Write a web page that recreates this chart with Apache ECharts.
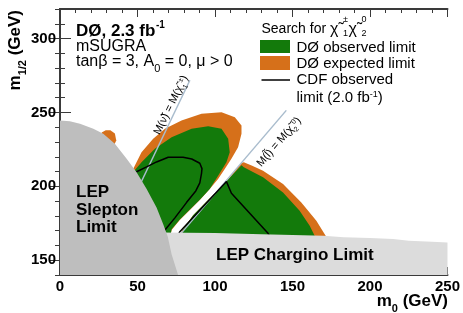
<!DOCTYPE html>
<html><head><meta charset="utf-8">
<script src="https://cdn.jsdelivr.net/npm/echarts@6/dist/echarts.min.js"></script>
<style>html,body{margin:0;padding:0;background:#fff}#c{width:463px;height:313px}</style>
</head><body><div id="c"></div>
<script>
// ---- data (m0, m1/2 in GeV) ----
const xMajorTicks = [0, 50, 100, 150, 200, 250];
const yMajorTicks = [150, 200, 250, 300];
const sleptonLimit = [[0,140],[0,244.6],[6.4,244.1],[12.9,242.3],[21.5,239],[27.9,235.6],[35.4,228.8],[43,218.6],[49.4,209.5],[55.9,198.2],[62.3,185.7],[66.6,174.4],[69.5,166],[72,154],[76.2,140]];
const charginoLimit = [[45,140],[45,169],[100,168.5],[130,167.5],[170,166.5],[183,165.5],[200,165],[215,164.3],[225,163.2],[240,162.5],[250,162],[250,140]];
const expectedLeft = [[40,160],[40,205],[47.2,211.8],[52.6,223],[60.1,232.2],[67.7,239],[78.4,244.6],[91.3,249.1],[104.2,250.2],[112.8,246.8],[117.1,241.2],[117.1,235.6],[114.9,226.5],[110.6,218.6],[106.3,211.8],[102,205],[96.6,198.2],[90.2,190.8],[83.8,184],[77.3,177.3],[72,170.5],[70,160]];
const observedLeft = [[40,160],[40,205],[47.5,210],[52.6,216.3],[61.2,225.4],[72,233.2],[84.9,239],[95.6,240.7],[104.2,239],[108.5,232.2],[109.5,223],[107.4,216.3],[102,207.2],[96.6,198.2],[90.2,191],[83.8,184.3],[77.3,177.5],[72,171],[70,160]];
const expectedRight = [[78.5,160],[78.5,169.7],[85.9,180.5],[107.4,203.5],[117.1,215.8],[118.6,216.3],[124,214],[131,210.6],[143.9,201.6],[155.7,189.1],[165.4,176.7],[171.8,165.8],[173.5,160]];
const observedRight = [[79,160],[79,169.7],[85.9,180.5],[107.4,203.5],[117.1,214.3],[118.6,212.9],[131,206.1],[143.9,195.9],[154.6,183.5],[161.1,173.3],[164.3,166.5],[165,160]];
const expectedBlob = [[26,231],[26.9,236.5],[29.5,238],[32.5,238],[35.4,235.8],[36.3,231],[34,226],[28,226]];
const lineSneutrino = [[48,193.3],[83.8,271.8]];
const lineSlepton = [[78,168],[146,251.4]];
const cdfLeft = [[47,208.5],[49.4,209.9],[55.9,213.2],[62.3,216.5],[69.8,219.7],[79.4,219.7],[85,218.5],[90.2,215.6],[91.6,212],[91.3,208.8],[90.2,202.3],[87.6,196.9],[81.6,189],[74,178.5],[67.7,170.5],[65,166.5]];
const cdfRight = [[76,166.5],[77.3,169.3],[107.4,203.2],[110.6,195.3],[134.2,168.2],[135.5,166]];

const GREEN = '#137a0b', ORANGE = '#d6701a', SLEP = '#bebebe', CHAR = '#dcdcdc', BLUE = '#a9bccd';
const FONT = 'Liberation Sans, Arial, Helvetica, sans-serif';

function poly(pts, color, z) {
  return {
    type: 'custom', coordinateSystem: 'cartesian2d', xAxisIndex: 0, yAxisIndex: 0, z: z,
    data: pts, encode: { x: 0, y: 1 }, silent: true, animation: false, clip: true,
    renderItem: function (params, api) {
      if (params.dataIndex !== 0) return null;
      return { type: 'polygon', shape: { points: pts.map(p => api.coord(p)) }, style: { fill: color } };
    }
  };
}
function line(pts, color, w) {
  return { type: 'line', xAxisIndex: 0, yAxisIndex: 0, z: 3, data: pts, showSymbol: false, symbol: 'none', silent: true, animation: false,
    lineStyle: { color: color, width: w } };
}
const AX = '#3a3a3a';
function xAx(pos, step, len, labels, line) {
  return { type: 'value', position: pos, min: 0, max: 250, interval: step,
    axisLine: { show: line, lineStyle: { color: AX, width: 2 } },
    axisTick: { show: true, inside: true, length: len, lineStyle: { color: AX, width: 1 } },
    axisLabel: { show: labels, margin: 4, color: '#000', fontSize: 15, fontWeight: 'bold', fontFamily: FONT,
      formatter: v => (xMajorTicks.includes(Math.round(v)) ? String(Math.round(v)) : '') },
    splitLine: { show: false } };
}
function yAx(pos, len, labels, line, major) {
  const a = { type: 'value', position: pos, min: 140, max: 320, interval: 10,
    axisLine: { show: line, lineStyle: { color: AX, width: 2 } },
    axisTick: { show: true, inside: true, length: len, lineStyle: { color: AX, width: 1 } },
    axisLabel: { show: labels, margin: 4, color: '#000', fontSize: 15, fontWeight: 'bold', fontFamily: FONT,
      formatter: v => (yMajorTicks.includes(Math.round(v)) ? String(Math.round(v)) : '') },
    splitLine: { show: false } };
  if (major) { a.axisTick.customValues = yMajorTicks; a.axisLabel.show = false; }
  return a;
}

function txt(x, y, text, o) {
  o = o || {};
  return { type: 'text', x: x, y: y, z: 100, rotation: o.rot || 0,
    style: { text: text, fill: '#000', fontFamily: FONT, fontSize: o.fs || 15, fontWeight: o.fw || 'normal',
      align: o.align || 'left', verticalAlign: o.va || 'top', lineHeight: o.lh, rich: o.rich } };
}
const subRich = (fs, fw, pad) => ({ fontSize: fs, fontWeight: fw || 'normal', fontFamily: FONT, verticalAlign: 'bottom', lineHeight: fs, padding: [0, 0, -pad, 0] });
const supRich = (fs, fw) => ({ fontSize: fs, fontWeight: fw || 'normal', fontFamily: FONT, verticalAlign: 'top', lineHeight: fs });

const chart = echarts.init(document.getElementById('c'), null, { renderer: 'canvas' });
chart.setOption({
  animation: false,
  grid: { left: 60, right: 14, top: 9, bottom: 38, containLabel: false },
  xAxis: [ xAx('bottom', 10, 4, true, true), xAx('bottom', 50, 8, false, false), xAx('top', 10, 4, false, true), xAx('top', 50, 8, false, false) ],
  yAxis: [ yAx('left', 5, true, true, false), yAx('left', 11, false, false, true), yAx('right', 5, false, true, false), yAx('right', 10, false, false, true) ],
  series: [
    poly(expectedLeft, ORANGE, 2), poly(expectedRight, ORANGE, 2), poly(expectedBlob, ORANGE, 2),
    poly(observedLeft, GREEN, 2), poly(observedRight, GREEN, 2),
    line(lineSneutrino, BLUE, 1.5), line(lineSlepton, BLUE, 1.5),
    line(cdfLeft, '#000', 1.5), line(cdfRight, '#000', 1.5),
    poly(charginoLimit, CHAR, 5), poly(sleptonLimit, SLEP, 6)
  ],
  graphic: [
    txt(76, 23, 'DØ, 2.3 fb', { fs: 17, fw: 'bold' }),
    txt(156, 20, '-1', { fs: 10, fw: 'bold' }),
    txt(76, 38.5, 'mSUGRA', { fs: 16 }),
    txt(76, 53.5, 'tanβ = 3, A{b|0} = 0, μ > 0', { fs: 16, rich: { b: subRich(11, 'normal', 5) } }),
    txt(76, 184, 'LEP\nSlepton\nLimit', { fs: 17, fw: 'bold', lh: 17.5 }),
    txt(216, 247, 'LEP Chargino Limit', { fs: 17, fw: 'bold' }),
    // axis titles
    txt(448, 292.5, 'm{b|0} (GeV)', { fs: 17, fw: 'bold', align: 'right', rich: { b: subRich(11, 'bold', 5) } }),
    txt(15, 10, 'm{b|1/2} (GeV)', { fs: 17, fw: 'bold', align: 'right', va: 'middle', rot: Math.PI / 2, rich: { b: subRich(11, 'bold', 5) } }),
    // line labels
    txt(171, 105, 'M(ν\u0303) = M(χ\u0303{b|1}{s|±})', { fs: 11, align: 'center', va: 'middle', rot: 1.115,
      rich: { b: subRich(7, 'normal', 3), s: supRich(7) } }),
    txt(279, 142, 'M(l\u0303) = M(χ\u0303{b|2}{s|0})', { fs: 11, align: 'center', va: 'middle', rot: 0.859,
      rich: { b: subRich(7, 'normal', 3), s: supRich(7) } }),
    // legend
    txt(261.5, 22.5, 'Search for', { fs: 14 }),
    txt(330, 22, 'χ\u0303', { fs: 16 }),
    txt(343, 15, '±', { fs: 9 }),
    txt(343, 29.5, '1', { fs: 9 }),
    txt(348.5, 22, 'χ\u0303', { fs: 16 }),
    txt(361.5, 15, '0', { fs: 9 }),
    txt(361.5, 29.5, '2', { fs: 9 }),
    { type: 'rect', z: 100, shape: { x: 260, y: 40, width: 30, height: 13 }, style: { fill: GREEN } },
    { type: 'rect', z: 100, shape: { x: 260, y: 56, width: 30, height: 14 }, style: { fill: ORANGE } },
    { type: 'line', z: 100, shape: { x1: 261.5, y1: 80, x2: 290, y2: 80 }, style: { stroke: '#000', lineWidth: 1.5 } },
    txt(296.5, 40, 'DØ observed limit', { fs: 15 }),
    txt(296.5, 56, 'DØ expected limit', { fs: 15 }),
    txt(296.5, 72.5, 'CDF observed', { fs: 15 }),
    txt(296.5, 90, 'limit (2.0 fb{s|-1})', { fs: 15, rich: { s: supRich(9) } })
  ]
});
</script></body></html>
